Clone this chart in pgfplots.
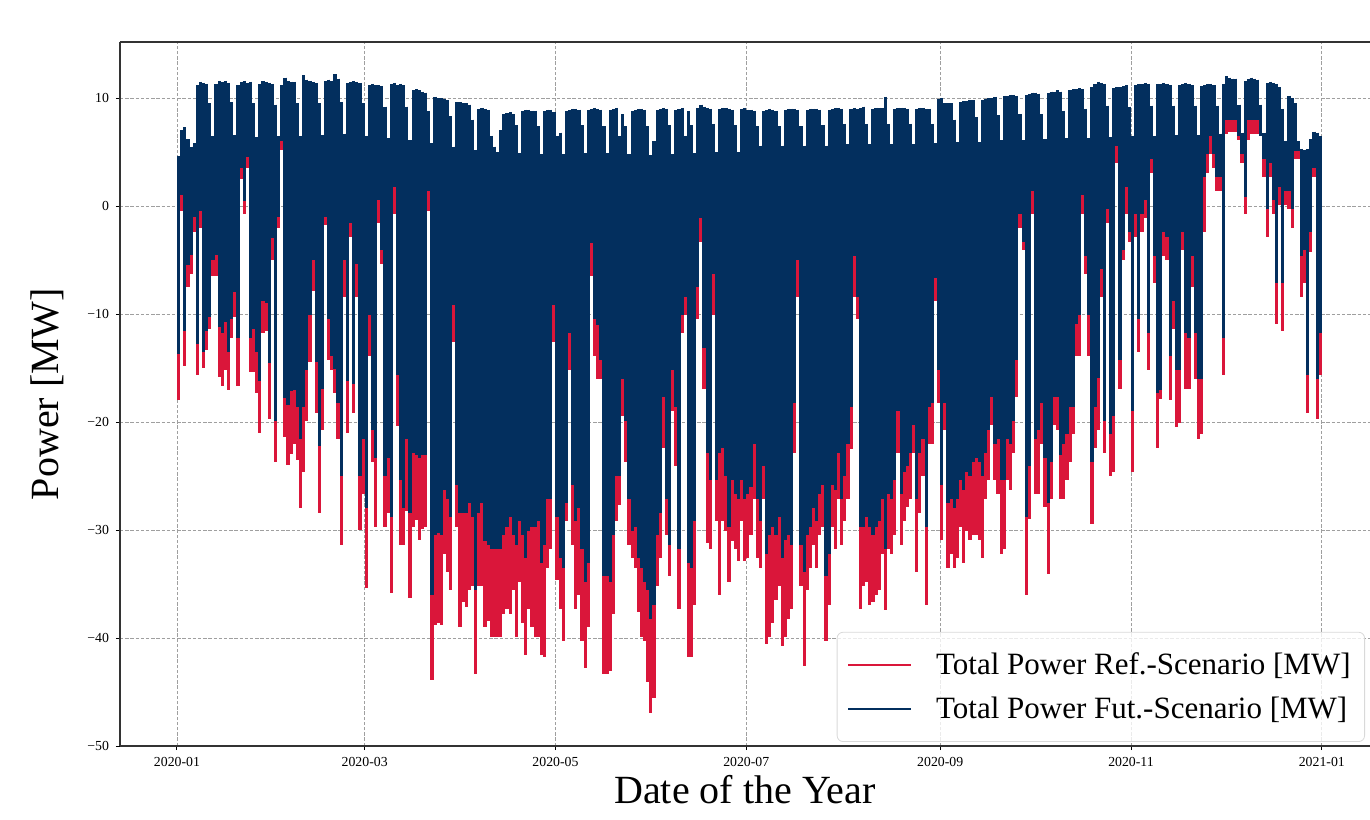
\documentclass[border=0pt]{standalone}
\usepackage{pgfplots}
\pgfplotsset{compat=1.18}
\usepackage{pgfplotstable}
\usepackage{fontspec}
\setmainfont{Liberation Serif}
\definecolor{rdc}{RGB}{218,22,58}
\definecolor{nvy}{RGB}{3,47,94}
\pgfplotstableread{
d top b r
0 4.6 -13.7 -18.0
1 7.0 1.0 -0.5
2 7.3 -11.6 -14.8
3 6.2 -5.5 -7.5
4 5.5 -4.5 -6.3
5 5.8 -1.0 -2.4
6 11.2 -12.8 -15.6
7 11.5 -0.5 -2.0
8 11.4 -13.5 -15.0
9 11.3 -11.6 -13.3
10 9.5 -10.3 -11.4
11 6.5 -5.0 -6.5
12 11.3 -4.5 -6.5
13 11.6 -11.2 -15.8
14 11.5 -11.8 -16.7
15 11.6 -10.7 -15.2
16 11.4 -13.5 -17.0
17 9.6 -10.5 -12.2
18 6.6 -8.0 -10.3
19 11.2 -12.2 -16.7
20 11.5 3.5 2.5
21 11.6 0.5 -0.7
22 11.4 4.5 3.5
23 11.5 -12.2 -15.4
24 9.5 -11.4 -15.4
25 6.4 -13.5 -17.3
26 11.3 -16.2 -21.0
27 11.6 -8.8 -11.8
28 11.5 -9.0 -11.6
29 11.4 -14.5 -19.7
30 11.3 -3.0 -5.0
31 9.4 -19.9 -23.7
32 6.5 -1.0 -2.0
33 11.2 6.0 5.2
34 11.9 -17.8 -21.4
35 11.6 -18.4 -24.0
36 11.5 -17.1 -23.0
37 11.5 -17.0 -22.0
38 9.5 -18.6 -23.5
39 6.5 -21.6 -28.0
40 12.1 -18.6 -24.6
41 11.7 -15.2 -19.9
42 11.6 -10.1 -14.4
43 11.5 -5.0 -7.9
44 11.4 -14.4 -19.2
45 9.5 -22.2 -28.4
46 6.6 -16.9 -20.7
47 11.6 -1.0 -1.8
48 11.7 -10.5 -14.3
49 11.6 -13.9 -15.2
50 12.2 -15.1 -17.3
51 11.8 -18.2 -21.6
52 9.6 -25.0 -31.4
53 6.7 -5.0 -8.4
54 11.4 -16.2 -21.0
55 11.5 -1.6 -2.9
56 11.6 -16.5 -19.2
57 11.5 -5.4 -8.4
58 11.4 -25.0 -30.0
59 9.5 -21.6 -26.7
60 6.5 -28.0 -35.4
61 11.2 -10.1 -13.9
62 11.3 -20.7 -23.7
63 11.2 -23.3 -29.7
64 11.2 0.6 -1.6
65 11.1 -4.1 -5.4
66 9.2 -25.0 -29.7
67 6.3 -23.3 -28.4
68 11.3 -28.8 -35.8
69 11.4 1.8 -0.7
70 11.2 -15.6 -20.4
71 11.3 -25.4 -31.4
72 11.2 -28.0 -31.4
73 9.2 -21.6 -28.2
74 6.1 -28.4 -36.3
75 10.7 -22.9 -29.7
76 10.8 -23.1 -29.1
77 10.7 -23.3 -30.9
78 10.6 -23.1 -29.9
79 10.5 -23.1 -29.7
80 8.8 1.4 -0.5
81 5.8 -36.0 -43.9
82 10.1 -30.5 -38.8
83 10.0 -30.3 -38.6
84 10.0 -30.5 -38.8
85 9.9 -26.3 -32.2
86 9.8 -27.1 -33.9
87 8.3 -28.8 -35.6
88 5.5 -9.2 -12.6
89 9.6 -25.8 -29.7
90 9.6 -28.4 -39.0
91 9.5 -28.4 -36.7
92 9.5 -28.4 -37.1
93 9.4 -27.5 -35.6
94 8.0 -28.8 -35.2
95 5.2 -35.6 -43.3
96 9.0 -28.4 -35.2
97 9.1 -27.5 -35.2
98 9.0 -31.0 -39.0
99 8.9 -31.4 -38.4
100 6.5 -31.8 -39.9
101 5.5 -31.8 -39.9
102 5.0 -31.8 -39.9
103 7.0 -31.8 -39.9
104 8.5 -30.5 -37.8
105 8.6 -29.7 -37.3
106 8.7 -28.8 -37.8
107 8.5 -30.5 -35.6
108 7.5 -31.4 -39.9
109 4.9 -29.2 -34.8
110 8.8 -30.5 -38.6
111 8.9 -32.6 -41.6
112 8.9 -30.1 -37.3
113 8.8 -29.7 -39.0
114 8.8 -29.7 -39.9
115 7.4 -29.2 -39.9
116 4.8 -33.1 -41.6
117 8.8 -31.4 -41.8
118 8.9 -27.1 -33.5
119 8.9 -27.1 -31.8
120 8.7 -9.2 -12.6
121 6.5 -28.8 -34.6
122 6.8 -32.6 -37.3
123 4.8 -33.5 -40.3
124 8.8 -27.5 -29.2
125 8.9 -11.8 -15.2
126 9.0 -25.8 -31.4
127 9.0 -29.2 -37.3
128 8.9 -28.0 -36.0
129 7.5 -31.8 -40.3
130 4.9 -34.8 -42.8
131 8.9 -33.1 -39.0
132 9.0 -3.4 -6.5
133 9.1 -10.5 -13.9
134 9.0 -11.0 -16.0
135 8.9 -14.3 -16.0
136 7.4 -34.3 -43.3
137 4.9 -34.3 -43.3
138 8.9 -34.8 -43.1
139 9.0 -30.5 -37.8
140 9.1 -25.0 -29.2
141 6.5 -25.0 -27.7
142 8.5 -16.0 -19.4
143 7.4 -19.9 -23.7
144 4.8 -27.1 -31.4
145 8.8 -30.1 -32.6
146 8.9 -29.7 -33.5
147 9.0 -32.6 -37.6
148 9.0 -33.5 -39.9
149 8.9 -34.8 -40.3
150 7.4 -35.6 -44.1
151 4.7 -38.2 -46.9
152 6.0 -36.9 -45.6
153 8.9 -30.5 -35.2
154 9.0 -28.4 -32.6
155 9.1 -17.7 -22.4
156 9.0 -27.1 -30.5
157 7.5 -31.4 -34.3
158 4.8 -15.2 -19.0
159 8.9 -18.6 -24.1
160 9.0 -31.8 -37.3
161 9.1 -10.1 -11.8
162 6.5 -8.4 -10.1
163 8.8 -33.1 -41.8
164 7.5 -33.5 -41.8
165 4.9 -29.2 -36.9
166 9.1 -7.5 -10.5
167 9.4 -1.1 -3.3
168 9.2 -13.1 -16.9
169 9.1 -22.9 -31.2
170 9.0 -25.4 -31.8
171 7.6 -6.3 -10.1
172 5.0 -25.4 -29.2
173 9.0 -22.9 -36.0
174 9.1 -22.4 -29.2
175 9.1 -25.0 -30.1
176 9.0 -29.7 -34.8
177 8.9 -25.4 -31.0
178 7.5 -26.7 -31.8
179 5.0 -27.1 -32.9
180 9.0 -25.4 -29.2
181 9.1 -27.1 -32.9
182 8.9 -26.7 -32.6
183 8.9 -26.0 -30.5
184 8.8 -22.0 -27.1
185 7.4 -27.1 -32.6
186 5.6 -29.2 -33.5
187 8.8 -24.1 -27.1
188 8.9 -32.2 -40.6
189 9.0 -30.5 -39.9
190 8.9 -29.7 -38.6
191 8.8 -30.5 -36.5
192 7.4 -28.8 -35.2
193 5.6 -32.6 -40.7
194 8.9 -30.9 -39.9
195 9.0 -30.5 -38.2
196 9.0 -31.4 -37.3
197 9.0 -18.2 -22.9
198 8.9 -5.0 -8.4
199 7.4 -31.4 -35.2
200 5.6 -33.9 -42.6
201 8.9 -30.5 -35.6
202 9.0 -29.7 -33.5
203 9.0 -28.0 -31.4
204 9.0 -29.2 -33.5
205 8.9 -26.7 -30.5
206 7.5 -25.8 -29.7
207 5.6 -34.3 -40.3
208 8.9 -32.2 -36.9
209 9.0 -25.8 -29.7
210 9.1 -26.3 -31.8
211 9.1 -22.9 -27.1
212 9.0 -27.1 -31.4
213 7.6 -25.0 -29.2
214 5.7 -22.0 -27.1
215 9.0 -18.6 -22.5
216 9.1 -4.6 -8.4
217 9.0 -8.4 -10.5
218 9.1 -29.7 -37.3
219 9.2 -29.7 -35.2
220 7.6 -28.8 -34.8
221 5.7 -29.7 -36.9
222 9.0 -30.5 -36.7
223 9.1 -29.7 -36.0
224 9.1 -29.2 -35.6
225 9.1 -27.1 -32.2
226 10.1 -31.8 -37.4
227 7.6 -26.7 -31.8
228 5.7 -27.1 -32.2
229 9.0 -25.4 -30.5
230 9.1 -19.0 -22.9
231 9.1 -26.7 -31.4
232 9.1 -24.6 -29.2
233 9.0 -24.1 -27.9
234 7.6 -22.9 -27.1
235 5.7 -20.3 -22.9
236 9.0 -27.1 -33.9
237 9.1 -22.9 -28.4
238 9.1 -21.6 -25.0
239 9.0 -29.7 -36.9
240 9.0 -18.6 -22.0
241 7.6 -18.2 -22.0
242 5.8 -6.7 -8.8
243 9.9 -15.2 -18.2
244 10.0 -25.8 -30.9
245 9.5 -18.2 -20.7
246 9.5 -27.5 -33.5
247 9.5 -27.1 -32.2
248 8.0 -28.0 -33.5
249 5.9 -27.1 -32.6
250 9.6 -25.4 -29.7
251 9.7 -26.3 -33.1
252 9.7 -24.6 -30.1
253 9.8 -25.0 -30.9
254 9.8 -23.7 -30.5
255 8.2 -23.3 -30.5
256 5.9 -23.7 -30.9
257 9.8 -25.0 -32.6
258 9.9 -22.9 -27.1
259 10.0 -20.7 -25.4
260 10.0 -17.7 -20.3
261 10.1 -22.0 -25.4
262 8.4 -21.6 -26.7
263 6.1 -25.4 -32.2
264 10.2 -25.4 -31.8
265 10.2 -21.6 -25.4
266 10.3 -22.0 -26.3
267 10.3 -19.9 -22.9
268 10.2 -14.3 -17.7
269 8.5 -0.7 -2.0
270 6.1 -3.3 -4.1
271 10.3 -28.8 -36.0
272 10.4 -24.1 -29.0
273 10.5 1.4 -0.7
274 10.5 -21.6 -26.7
275 10.4 -20.7 -26.7
276 8.5 -18.2 -22.0
277 6.2 -23.3 -27.9
278 10.5 -27.5 -34.1
279 10.6 -23.7 -27.1
280 10.6 -17.7 -20.3
281 10.7 -17.7 -20.7
282 10.6 -23.1 -27.1
283 8.8 -22.0 -27.1
284 6.3 -21.1 -25.4
285 10.7 -18.6 -23.7
286 10.8 -18.6 -21.1
287 10.8 -10.9 -13.9
288 10.9 -10.1 -13.9
289 10.8 1.0 -0.7
290 9.0 -4.6 -6.3
291 6.3 -10.1 -13.9
292 11.0 -23.7 -29.4
293 11.3 -18.6 -22.4
294 11.5 -15.9 -20.7
295 11.4 -5.8 -8.4
296 11.3 -19.9 -22.9
297 9.3 -0.3 -1.6
298 6.4 -21.1 -25.0
299 10.9 -19.4 -24.6
300 11.0 5.6 4.0
301 11.0 -14.3 -16.9
302 11.1 -4.1 -5.0
303 11.2 1.8 -0.7
304 9.2 -2.4 -3.3
305 6.5 -19.0 -24.6
306 11.2 -0.7 -2.9
307 11.3 -10.5 -13.5
308 11.3 -0.7 -2.4
309 11.4 0.6 -1.1
310 11.3 -11.8 -15.2
311 9.3 4.4 3.1
312 6.5 -4.6 -7.1
313 11.3 -17.3 -22.4
314 11.3 -17.0 -17.9
315 11.4 -2.4 -4.6
316 11.3 -2.9 -5.0
317 11.2 -13.9 -18.0
318 9.3 -8.8 -11.4
319 6.6 -15.2 -20.5
320 11.2 -15.2 -20.1
321 11.3 -2.4 -4.1
322 11.4 -11.8 -16.9
323 11.3 -12.2 -16.9
324 11.2 -4.6 -7.5
325 9.3 -11.8 -16.0
326 6.6 -16.0 -21.6
327 11.1 -16.0 -21.1
328 11.2 2.7 -2.4
329 11.3 4.8 3.1
330 11.3 6.5 4.8
331 11.2 4.8 3.5
332 9.3 2.7 1.4
333 6.7 2.7 1.4
334 11.3 -12.2 -15.6
335 12.0 8.0 6.7
336 11.9 8.0 6.9
337 11.8 8.0 6.9
338 11.8 8.0 6.9
339 9.4 6.5 6.1
340 6.8 4.8 4.0
341 11.6 0.8 -0.7
342 11.8 8.0 6.1
343 11.9 8.0 6.7
344 11.8 8.0 6.7
345 11.7 8.0 6.7
346 9.4 6.5 6.5
347 6.8 4.4 2.7
348 11.4 -0.3 -2.9
349 11.5 4.0 2.7
350 11.4 0.6 -0.7
351 11.3 -7.1 -10.9
352 11.0 1.8 0.1
353 9.0 -7.1 -11.6
354 6.0 1.4 0.1
355 10.2 1.4 -0.3
356 10.0 -0.3 -2.0
357 9.5 5.1 4.4
358 6.0 5.1 4.4
359 5.3 -4.6 -8.4
360 5.2 -4.1 -7.1
361 5.3 -15.6 -19.2
362 6.2 -2.4 -4.3
363 6.9 3.5 2.7
364 6.8 -16.0 -19.7
365 6.5 -11.8 -15.6
}\data
\begin{document}
\begin{tikzpicture}
\begin{axis}[
  at={(0pt,0pt)}, anchor=south west,
  scale only axis, width=625pt, height=352pt,
  xmin=-18.22, xmax=381.4, ymin=-50, ymax=15.19,
  axis y line*=left,
  axis line style={line width=0.6pt, black!80},
  tick pos=left, tick align=outside,
  major tick length=2pt,
  tick style={line width=0.5pt, black},
  xtick={0,60,121,182,244,305,366},
  xticklabels={2020-01,2020-03,2020-05,2020-07,2020-09,2020-11,2021-01},
  ytick={-50,-40,-30,-20,-10,0,10},
  yticklabels={−50,−40,−30,−20,−10,0,10},
  ticklabel style={font=\fontsize{6.9}{8.3}\selectfont},
  grid=major,
  major grid style={gray!75, line width=0.45pt, dash pattern=on 1.7pt off 0.9pt},
  xlabel={Date of the Year},
  ylabel={Power [MW]},
  label style={font=\fontsize{20}{24}\selectfont},
  xlabel style={at={(axis description cs:0.5,-0.0625)}, anchor=center},
  ylabel style={at={(axis description cs:-0.0584,0.5)}, anchor=center},
  legend style={at={(axis description cs:0.996,0.0057)}, anchor=south east,
    draw=black!15, rounded corners=3pt, fill=white, fill opacity=0.8,
    text opacity=1, draw opacity=1, font=\fontsize{15.5}{18}\selectfont,
    inner xsep=5pt, inner ysep=8.25pt, row sep=5.5pt,
    /tikz/every odd column/.append style={column sep=10pt}},
  legend cell align=left,
  legend image code/.code={\draw[#1, line width=1pt] (0pt,0pt) -- (31.5pt,0pt);},
]
\addplot[forget plot, draw=none, mark=none,
  error bars/.cd, y dir=minus, y explicit, error mark=none,
  error bar style={draw=rdc, line width=1.6pt, solid}]
  table[x expr=\thisrow{d}+0.5, y=top, y error minus expr=\thisrow{top}-\thisrow{r}] {\data};
\addplot[forget plot, draw=none, mark=none,
  error bars/.cd, y dir=minus, y explicit, error mark=none,
  error bar style={draw=nvy, line width=1.6pt, solid}]
  table[x expr=\thisrow{d}+0.5, y=top, y error minus expr=\thisrow{top}-\thisrow{b}] {\data};
\addlegendimage{rdc}
\addlegendentry{Total Power Ref.-Scenario [MW]}
\addlegendimage{nvy}
\addlegendentry{Total Power Fut.-Scenario [MW]}
\end{axis}
\pgfresetboundingbox
\useasboundingbox (-60pt,-36.5pt) rectangle (625pt,373pt);
\end{tikzpicture}
\end{document}
